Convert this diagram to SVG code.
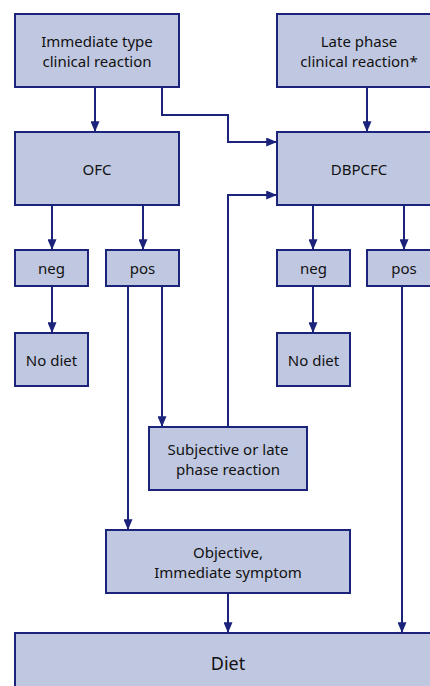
<svg xmlns="http://www.w3.org/2000/svg" width="430" height="686" viewBox="0 0 430 686">
<style>
.n rect{fill:#c0c8e1;stroke:#1b237a;stroke-width:2}
.n text{font-family:"Noto Sans","DejaVu Sans",sans-serif;font-size:15px;fill:#111;text-anchor:middle}
.c path{fill:none;stroke:#1b237a;stroke-width:2}
</style>
<defs>
<marker id="a" viewBox="0 0 12 10" refX="12" refY="5" markerWidth="12" markerHeight="9" markerUnits="userSpaceOnUse" orient="auto">
<path d="M0,0 L12,5 L0,10 z" fill="#1b237a"/>
</marker>
</defs>
<rect width="430" height="686" fill="#fff"/>
<g class="c">
<path d="M95,87 V132" marker-end="url(#a)"/>
<path d="M162,87 V115 H228 V142 H277" marker-end="url(#a)"/>
<path d="M367,87 V132" marker-end="url(#a)"/>
<path d="M228,427 V195 H277" marker-end="url(#a)"/>
<path d="M52,205 V250" marker-end="url(#a)"/>
<path d="M143,205 V250" marker-end="url(#a)"/>
<path d="M313,205 V250" marker-end="url(#a)"/>
<path d="M404,205 V250" marker-end="url(#a)"/>
<path d="M52,286 V333" marker-end="url(#a)"/>
<path d="M313,286 V333" marker-end="url(#a)"/>
<path d="M162,286 V427" marker-end="url(#a)"/>
<path d="M128,286 V530" marker-end="url(#a)"/>
<path d="M228,593 V633" marker-end="url(#a)"/>
<path d="M402,286 V633" marker-end="url(#a)"/>
</g>
<g id="immediate" class="n"><rect x="15" y="14" width="164" height="73"/><text x="97" y="47">Immediate type</text><text x="97" y="67">clinical reaction</text></g>
<g id="late" class="n"><rect x="277" y="14" width="160" height="73"/><text x="359" y="47">Late phase</text><text x="359" y="67">clinical reaction*</text></g>
<g id="ofc" class="n"><rect x="15" y="132" width="164" height="73"/><text x="97" y="175">OFC</text></g>
<g id="dbpcfc" class="n"><rect x="277" y="132" width="160" height="73"/><text x="359" y="175">DBPCFC</text></g>
<g id="neg1" class="n"><rect x="15" y="250" width="73" height="36"/><text x="51.5" y="274">neg</text></g>
<g id="pos1" class="n"><rect x="106" y="250" width="73" height="36"/><text x="142.5" y="274">pos</text></g>
<g id="neg2" class="n"><rect x="277" y="250" width="73" height="36"/><text x="313.5" y="274">neg</text></g>
<g id="pos2" class="n"><rect x="367" y="250" width="73" height="36"/><text x="404" y="274">pos</text></g>
<g id="nodiet1" class="n"><rect x="15" y="333" width="73" height="53"/><text x="51.5" y="366">No diet</text></g>
<g id="nodiet2" class="n"><rect x="277" y="333" width="73" height="53"/><text x="313.5" y="366">No diet</text></g>
<g id="subjective" class="n"><rect x="149" y="427" width="158" height="63"/><text x="228" y="455">Subjective or late</text><text x="228" y="475">phase reaction</text></g>
<g id="objective" class="n"><rect x="106" y="530" width="244" height="63"/><text x="228" y="558">Objective,</text><text x="228" y="578">Immediate symptom</text></g>
<g id="diet" class="n"><rect x="15" y="633" width="425" height="60"/><text x="228" y="670" style="font-size:18px">Diet</text></g>
</svg>
